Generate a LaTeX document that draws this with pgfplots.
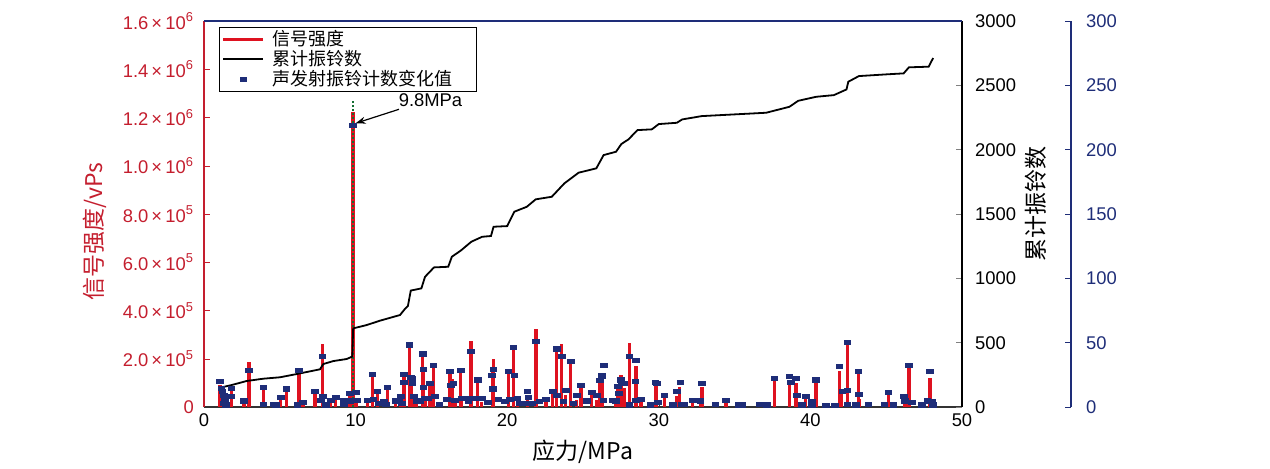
\documentclass[border=0pt]{standalone}
\usepackage{fontspec}
\setmainfont{Liberation Sans}
\newfontfamily\cjk{Noto Sans CJK SC}
\usepackage{pgfplots}
\usepackage{pgfplotstable}
\pgfplotsset{compat=1.18}
\usetikzlibrary{arrows.meta}
\definecolor{axred}{RGB}{196,30,46}
\definecolor{barred}{RGB}{222,18,32}
\definecolor{navy}{RGB}{30,45,120}
\definecolor{dgreen}{RGB}{20,110,50}

\pgfplotstableread{
x y
1.06 91000
1.17 77000
1.28 64000
1.43 43000
1.80 77000
2.64 22000
2.97 185000
3.91 80000
4.62 12000
5.06 36000
5.43 66000
6.27 156000
6.53 18000
7.32 66000
7.81 260000
8.36 29000
8.69 36000
9.23 26000
9.61 54000
10.05 36000
10.77 26000
11.10 135000
11.43 66000
11.98 22000
12.09 82000
12.64 25000
12.97 43000
13.19 140000
13.54 267000
13.70 123000
13.85 30000
14.03 15000
14.42 222000
14.47 160000
14.58 25000
14.91 98000
15.13 181000
16.23 146000
16.40 115000
16.56 20000
16.93 156000
17.00 25000
17.61 274000
18.05 112000
18.31 20000
19.02 156000
19.09 198000
20.07 146000
20.40 250000
20.67 20000
21.33 50000
21.90 323000
22.56 20000
23.00 66000
23.26 243000
23.59 261000
23.86 48000
24.19 188000
24.58 30000
24.87 91000
25.57 61000
25.90 30000
26.08 112000
26.25 133000
27.18 15000
27.29 87000
27.42 112000
27.51 133000
27.73 77000
28.06 267000
28.50 170000
28.83 20000
29.82 87000
30.37 54000
31.20 45000
31.35 84000
32.23 29000
32.74 15000
32.85 84000
34.43 22000
35.27 18000
37.62 115000
38.61 112000
39.05 98000
39.09 30000
39.69 40000
40.08 32000
40.37 108000
41.91 150000
42.07 70000
42.44 268000
43.16 142000
43.21 35000
45.14 50000
46.24 15000
46.50 160000
47.89 119000
48.00 29000
}\signal

\pgfplotstableread{
x y
1.06 150
1.83 171
2.81 202
3.91 220
5.01 231
6.11 256
7.65 293
7.87 334
8.53 357
9.41 373
9.78 392
9.84 611
10.73 637
11.61 671
12.93 715
13.28 766
13.45 785
13.64 905
14.34 922
14.58 1012
15.17 1085
16.11 1090
16.35 1168
16.93 1215
17.64 1285
18.35 1323
18.93 1329
19.10 1401
20.00 1406
20.47 1518
21.29 1556
21.88 1614
22.94 1634
23.77 1738
24.71 1821
25.88 1855
26.36 1958
27.18 1984
27.53 2044
28.00 2080
28.59 2152
29.54 2158
30.00 2199
31.19 2209
31.54 2235
32.84 2261
37.08 2287
38.61 2333
39.20 2380
40.38 2411
41.55 2424
42.38 2468
42.50 2528
43.20 2572
44.97 2585
46.15 2593
46.50 2640
47.80 2645
48.03 2697
48.10 2712
}\cumul

\pgfplotstableread{
x y
1.06 19.7
1.14 14.5
1.21 11.9
1.32 9.3
1.36 5.4
1.28 2.8
1.43 1.6
1.80 14.5
1.80 8.5
2.64 4.7
2.97 28.2
3.91 15.3
3.91 2.3
4.62 2.3
4.73 1.6
5.06 7.3
5.43 14.0
6.16 1.6
6.27 28.2
6.53 3.4
7.32 12.4
7.70 5.4
7.81 39.1
7.85 8.0
8.03 1.6
8.36 5.4
8.69 7.3
9.23 4.9
9.23 2.3
9.61 10.6
9.61 4.7
9.83 219
10.05 11.4
10.11 5.4
10.77 4.9
11.10 25.4
11.17 6.2
11.43 12.4
11.54 2.8
11.87 4.1
11.98 2.3
12.09 15.3
12.64 4.7
12.86 5.4
12.97 8.0
13.04 2.8
13.19 25.4
13.19 19.4
13.54 48.2
13.63 23.1
13.74 22.3
13.74 18.4
13.85 8.0
14.03 4.1
14.25 4.7
14.42 41.2
14.47 29.3
14.47 15.3
14.58 6.7
14.80 6.7
14.91 18.4
15.13 32.1
15.24 8.0
15.52 2.1
16.01 6.2
16.23 27.5
16.29 16.6
16.45 18.4
16.56 5.4
16.93 28.7
17.00 6.7
17.33 6.7
17.44 4.1
17.61 43.0
17.72 6.7
18.05 21.0
18.16 6.7
18.31 6.7
18.75 3.6
18.97 24.3
19.04 14.0
19.09 29.3
19.42 6.2
19.85 4.1
20.07 27.5
20.18 6.2
20.40 46.4
20.47 24.3
20.67 6.7
20.84 2.8
21.17 2.8
21.33 12.4
21.39 7.5
21.61 2.8
21.90 51.3
22.12 4.1
22.56 6.2
23.00 12.4
23.26 45.1
23.30 9.3
23.59 39.1
23.70 4.1
23.86 13.2
24.19 35.2
24.36 2.8
24.58 9.3
24.87 17.1
25.24 4.7
25.57 11.4
25.90 9.3
26.12 20.5
26.25 24.1
26.36 32.1
26.34 5.4
26.96 5.4
27.18 4.7
27.29 16.3
27.35 10.6
27.51 21.0
27.57 18.4
27.73 18.4
28.06 39.1
28.06 1.6
28.50 36.0
28.45 19.7
28.50 5.4
28.83 6.2
29.45 1.6
29.77 19.4
29.88 18.4
29.92 3.4
30.37 9.3
30.91 1.6
31.20 12.4
31.42 19.2
31.53 2.3
31.68 2.3
32.23 5.4
32.45 5.4
32.74 4.7
32.85 18.4
33.73 2.3
34.43 5.4
35.27 1.6
35.49 1.6
36.63 2.3
36.96 2.3
37.11 1.6
37.62 22.3
38.61 23.6
38.72 19.2
39.05 22.3
39.09 9.3
39.42 1.6
39.69 8.5
40.08 4.1
40.08 1.6
40.37 21.0
41.03 1.3
41.62 1.3
41.91 31.3
42.11 12.4
42.44 50.2
42.44 13.2
42.44 2.3
42.98 1.6
43.16 27.5
43.21 10.1
43.82 2.3
44.88 2.3
45.14 11.4
45.47 1.6
46.17 8.0
46.24 4.7
46.50 32.1
46.68 3.4
47.34 1.6
47.71 4.7
47.89 27.5
48.00 4.1
48.07 1.6
}\change

\pgfplotsset{
  base/.style={
    scale only axis, width=379pt, height=193pt,
    xmin=0, xmax=50,
    tick align=inside, major tick length=3pt,
    tick label style={font=\fontsize{9.2}{10}\selectfont},
    /pgf/number format/assume math mode=true,
    /pgf/number format/1000 sep={},
  },
}

\begin{document}
\begin{tikzpicture}
% red signal axis
\begin{axis}[base, name=main,
  ymin=0, ymax=1.6e6,
  axis y line*=left, axis x line*=bottom,
  y axis line style={axred, line width=0.7pt},
  x axis line style={black!80, line width=0.8pt},
  y tick style={axred}, x tick style={black!80},
  xtick={0,10,...,50},
  ytick={0,2e5,4e5,6e5,8e5,10e5,12e5,14e5,16e5},
  scaled y ticks=false,
  yticklabels={0,
    {2.0\,×\,10\textsuperscript{5}},
    {4.0\,×\,10\textsuperscript{5}},
    {6.0\,×\,10\textsuperscript{5}},
    {8.0\,×\,10\textsuperscript{5}},
    {1.0\,×\,10\textsuperscript{6}},
    {1.2\,×\,10\textsuperscript{6}},
    {1.4\,×\,10\textsuperscript{6}},
    {1.6\,×\,10\textsuperscript{6}}},
  y tick label style={axred, xshift=-1.5pt},
  ylabel={信号强度/vPs},
  ylabel style={font=\cjk\fontsize{11.5}{13}\selectfont, axred,
    at={(axis description cs:-0.1438,0.4547)}, anchor=center},
  xlabel={应力/MPa},
  xlabel style={font=\cjk\fontsize{11.5}{13}\selectfont,
    at={(axis description cs:0.5,0)}, anchor=center, yshift=-22.5pt},
]
\addplot[ycomb, barred, line width=1.6pt] table {\signal};
\addplot[ycomb, barred, line width=1.6pt] coordinates {(9.83,1224000)};
\addplot[dgreen, densely dotted, line width=1pt] coordinates {(9.83,0) (9.83,1275000)};
\node[font=\fontsize{9.2}{10}\selectfont] at (axis cs:14.94,1272500) {9.8MPa};
\draw[-{Stealth[length=5pt,width=3.5pt]}, line width=0.6pt] (axis cs:12.86,1234000) -- (axis cs:10.0,1176000);
\end{axis}

% black cumulative axis
\begin{axis}[base,
  ymin=0, ymax=3000,
  axis y line*=right, axis x line=none,
  y axis line style={black, line width=0.7pt},
  ytick={0,500,...,3000},
  y tick label style={xshift=3pt},
  ylabel={累计振铃数},
  ylabel style={font=\cjk\fontsize{11.5}{13}\selectfont,
    at={(axis description cs:1.0976,0.527)}, anchor=center},
]
\addplot[black, line width=0.9pt] table {\cumul};
\end{axis}

% navy change markers (same frame)
\begin{axis}[base,
  ymin=0, ymax=300, clip=false,
  axis y line=none, axis x line=none,
  ylabel={声发射振铃计数变化值},
  ylabel style={font=\cjk\fontsize{11.5}{13}\selectfont, navy,
    at={(axis description cs:1.2348,0.532)}, anchor=center},
  legend style={at={(axis description cs:0.0198,0.985)}, anchor=north west,
    font=\cjk\fontsize{9}{10}\selectfont, draw=black, line width=0.6pt,
    inner sep=1pt, row sep=0pt, legend cell align=left,
    nodes={inner sep=1pt, text height=7pt, text depth=1pt},
    /tikz/every odd column/.append style={column sep=3pt}},
]
\addlegendimage{legend image code/.code={\draw[barred, line width=1.6pt] (0pt,0pt) -- (20pt,0pt);}}
\addlegendentry{信号强度}
\addlegendimage{legend image code/.code={\draw[black, line width=0.9pt] (0pt,0pt) -- (20pt,0pt);}}
\addlegendentry{累计振铃数}
\addplot[only marks, mark=square*, mark size=1.05pt,
  mark options={xscale=1.6, fill=navy, draw=navy},
  legend image code/.code={\fill[navy] (8.5pt,-1pt) rectangle (11.5pt,1pt);}] table {\change};
\addlegendentry{声发射振铃计数变化值\makebox[10pt]{}}
\end{axis}

% navy offset spine
\begin{axis}[base, at={(54.5pt,0)},
  ymin=0, ymax=300,
  axis y line*=right, axis x line=none,
  y axis line style={navy, line width=0.7pt},
  y tick style={navy},
  ytick={0,50,...,300},
  y tick label style={navy, xshift=4pt},
]
\addplot[draw=none] coordinates {(0,0)};
\end{axis}

\draw[navy, line width=0.7pt] (main.north west) -- (main.north east);

\pgfresetboundingbox
\path[use as bounding box] ([shift={(-102pt,-30.5pt)}]main.south west) rectangle ([shift={(533pt,203.5pt)}]main.south west);
\end{tikzpicture}
\end{document}
